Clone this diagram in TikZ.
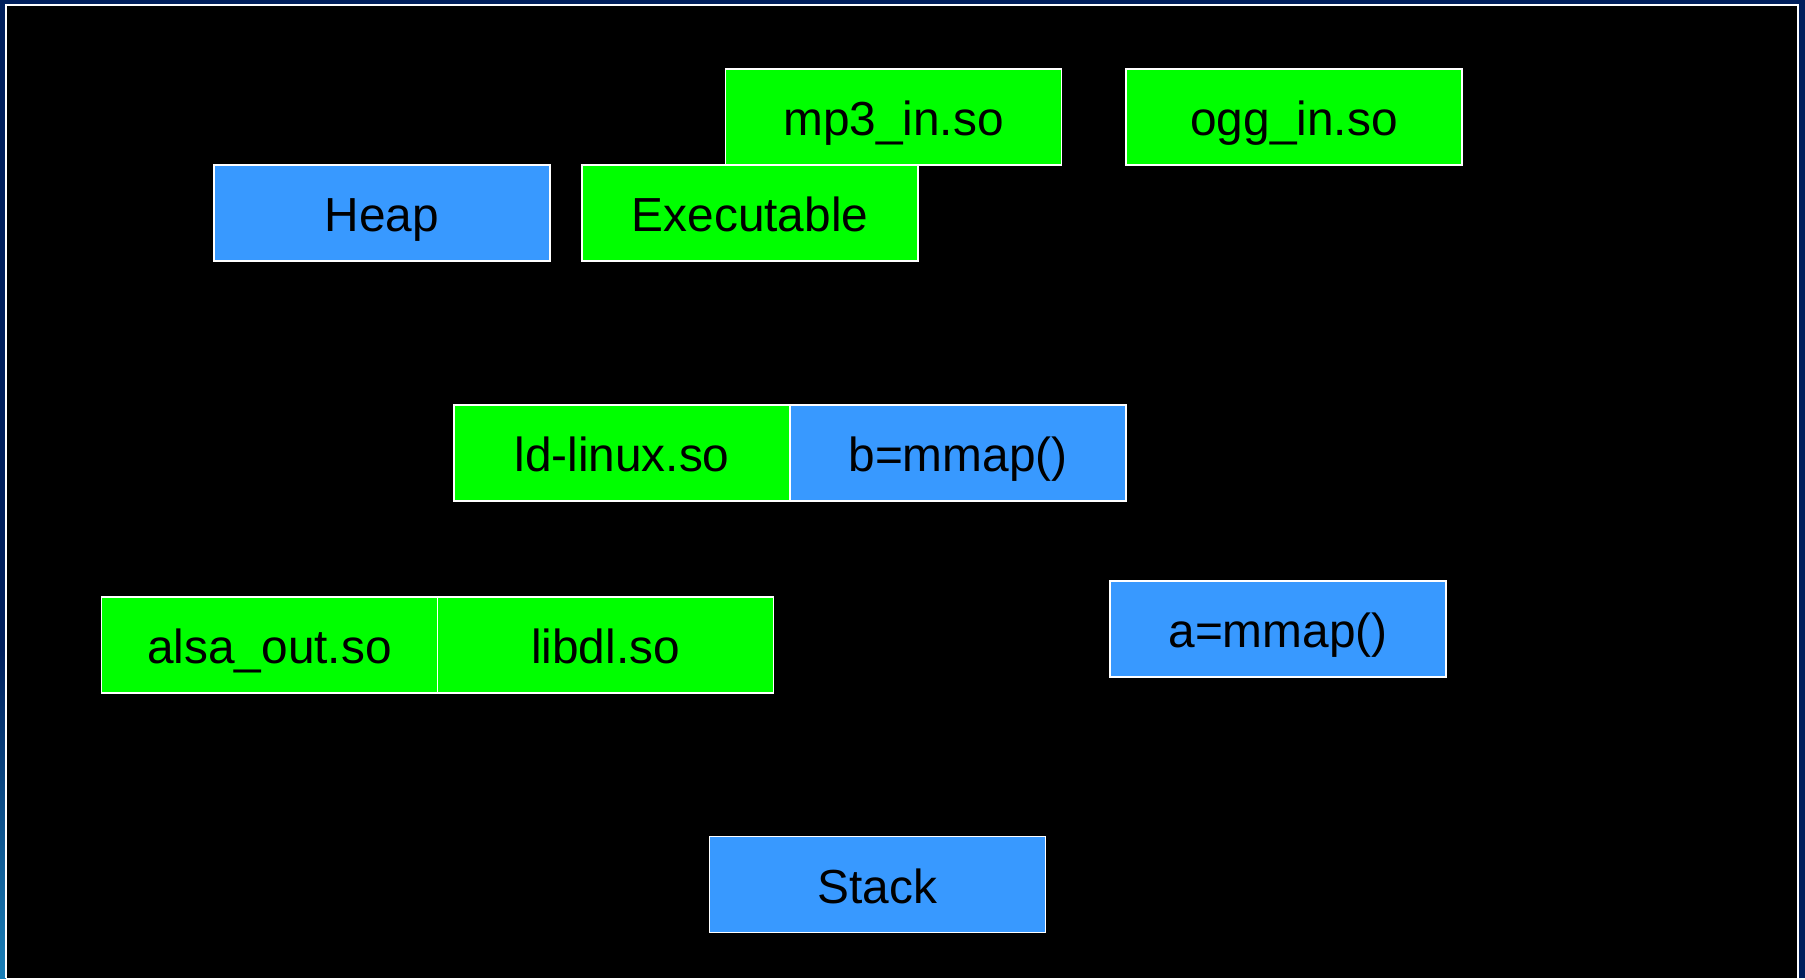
\documentclass[tikz,border=0pt]{standalone}
\usepackage{fontspec}
\setmainfont{Liberation Sans}
\usetikzlibrary{positioning}

\definecolor{slidenavy}{HTML}{001F5C}
\definecolor{slideteal}{HTML}{1A80B8}
\definecolor{libgreen}{HTML}{00FF00}
\definecolor{memblue}{HTML}{3899FF}

\tikzset{
  region/.style={draw=white, line width=0.5pt, minimum width=3.36cm,
    minimum height=0.96cm, inner sep=0pt, outer sep=0pt,
    text height=0.45cm, text depth=0.076cm,
    font=\fontsize{13.6}{16}\selectfont, text=black},
  lib/.style={region, fill=libgreen},
  anon/.style={region, fill=memblue}
}

\begin{document}
\begin{tikzpicture}
      % Slide background
      \fill[slidenavy] (0,0) rectangle (18.05,-9.78);
      \shade[top color=slidenavy, bottom color=slideteal] (0,-6.5) rectangle (0.06,-9.78);
      \fill[black] (0.06,-0.05) rectangle (17.98,-9.78);
      \draw[white, line width=0.6pt] (0.06,-9.78) -- (0.06,-0.05) -- (17.98,-0.05) -- (17.98,-9.78);

      % Top row
      \node[lib] (mp3) at (8.935,-1.17) {mp3\_in.so};
      \node[lib] (ogg) at (12.94,-1.17) {ogg\_in.so};
      \node[anon] (heap) at (3.82,-2.13) {Heap};
      \node[lib] (exe) at (7.50,-2.13) {Executable};

      % Middle
      \node[lib] (ldlinux) at (6.22,-4.53) {ld-linux.so};
      \node[anon, right=0pt of ldlinux] (bmmap) {b=mmap()};

      % Lower
      \node[lib] (alsa) at (2.695,-6.45) {alsa\_out.so};
      \node[lib, right=0pt of alsa] (libdl) {libdl.so};
      \node[anon] (ammap) at (12.78,-6.29) {a=mmap()};

      % Bottom
      \node[anon] (stack) at (8.775,-8.845) {Stack};
    \end{tikzpicture}
\end{document}
